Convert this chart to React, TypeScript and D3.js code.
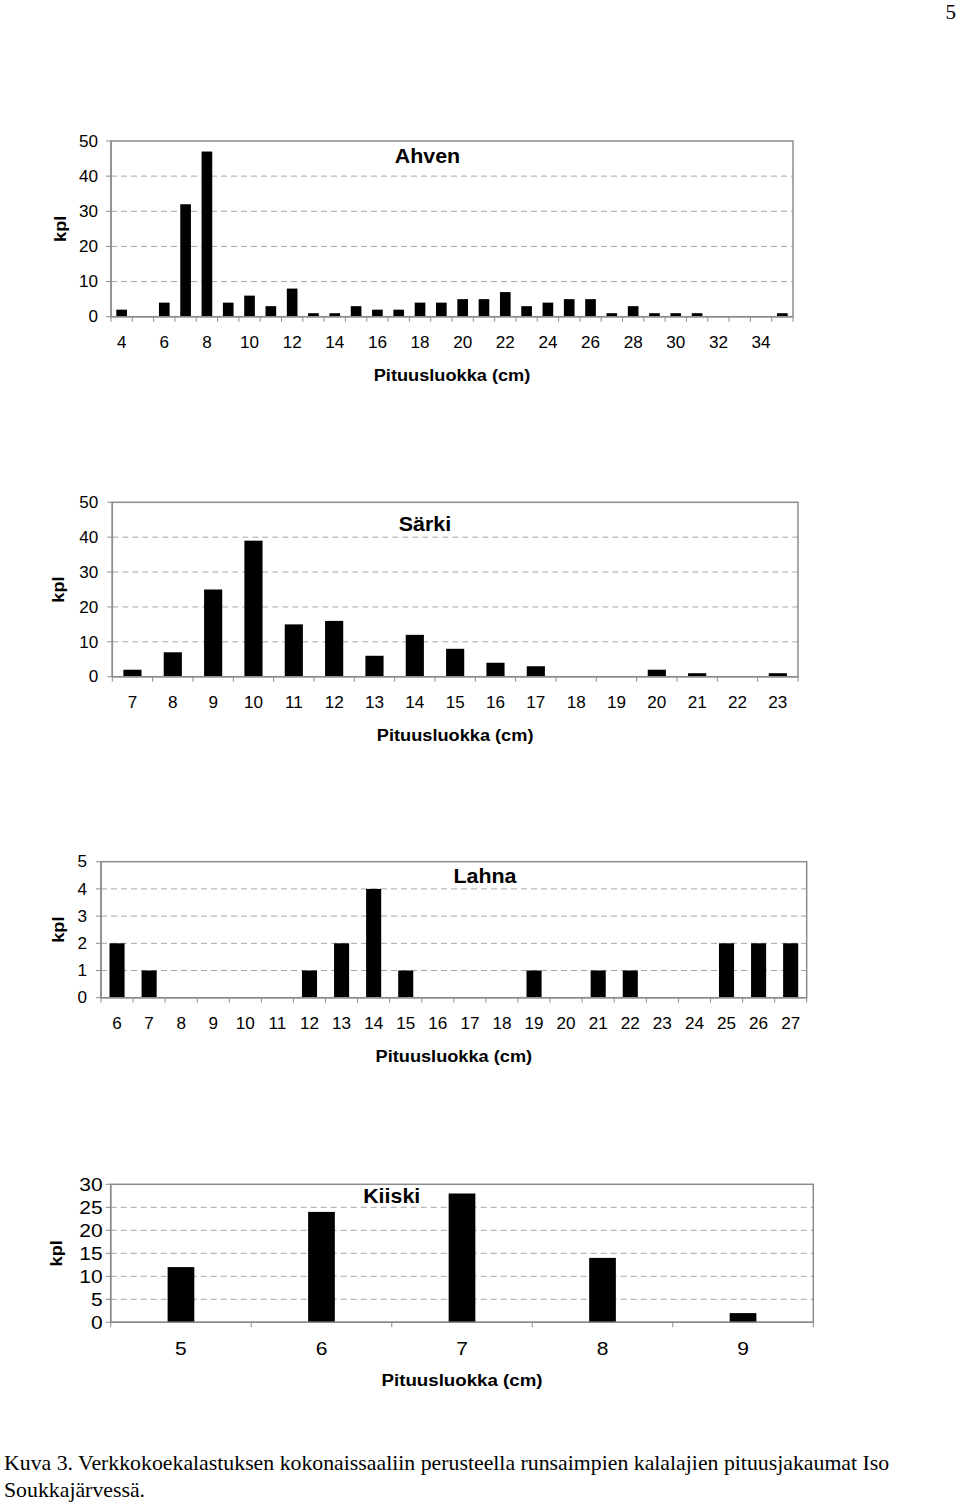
import React from "react";
import * as d3 from "d3";

// ---------- data ----------
const ahvenClasses = [4, 5, 6, 7, 8, 9, 10, 11, 12, 13, 14, 15, 16, 17, 18, 19, 20, 21, 22, 23, 24, 25, 26, 27, 28, 29, 30, 31, 32, 33, 34, 35];
const ahvenCounts = [2, 0, 4, 32, 47, 4, 6, 3, 8, 1, 1, 3, 2, 2, 4, 4, 5, 5, 7, 3, 4, 5, 5, 1, 3, 1, 1, 1, 0, 0, 0, 1];
const ahvenXLabels = [4, 6, 8, 10, 12, 14, 16, 18, 20, 22, 24, 26, 28, 30, 32, 34];
const ahvenYTicks = [0, 10, 20, 30, 40, 50];

const sarkiClasses = [7, 8, 9, 10, 11, 12, 13, 14, 15, 16, 17, 18, 19, 20, 21, 22, 23];
const sarkiCounts = [2, 7, 25, 39, 15, 16, 6, 12, 8, 4, 3, 0, 0, 2, 1, 0, 1];
const sarkiXLabels = sarkiClasses;
const sarkiYTicks = [0, 10, 20, 30, 40, 50];

const lahnaClasses = [6, 7, 8, 9, 10, 11, 12, 13, 14, 15, 16, 17, 18, 19, 20, 21, 22, 23, 24, 25, 26, 27];
const lahnaCounts = [2, 1, 0, 0, 0, 0, 1, 2, 4, 1, 0, 0, 0, 1, 0, 1, 1, 0, 0, 2, 2, 2];
const lahnaXLabels = lahnaClasses;
const lahnaYTicks = [0, 1, 2, 3, 4, 5];

const kiiskiClasses = [5, 6, 7, 8, 9];
const kiiskiCounts = [12, 24, 28, 14, 2];
const kiiskiXLabels = kiiskiClasses;
const kiiskiYTicks = [0, 5, 10, 15, 20, 25, 30];

const xAxisTitle = "Pituusluokka (cm)";
const yAxisTitle = "kpl";
const captionLine1 = "Kuva 3. Verkkokoekalastuksen kokonaissaaliin perusteella runsaimpien kalalajien pituusjakaumat Iso";
const captionLine2 = "Soukkajärvessä.";
const pageNumber = "5";

// ---------- styles ----------
const FONT = "'Liberation Sans', Arial, sans-serif";
const SERIF = "'Liberation Serif', 'Times New Roman', serif";
const SX = 1.07;
const GRID = "#a6a6a6";
const AXIS = "#8c8c8c";

type ChartProps = {
  title: string;
  classes: number[];
  counts: number[];
  xLabels: number[];
  yTicks: number[];
  x0: number; x1: number; y0: number; y1: number;
  barRatio: number;
  titleX: number; titleY: number;
  yLabelGap: number;
  kplX: number;
  tickSx?: number;
  tickSize?: number;
  axisSx?: number;
};

function SText(props: { x: number; y: number; anchor?: string; size: number; bold?: boolean; children: React.ReactNode; rotate?: boolean; sx?: number }) {
  const { x, y, anchor = "middle", size, bold, children, rotate, sx = SX } = props;
  const tr = rotate ? `translate(${x},${y}) rotate(-90) scale(${sx},1)` : `translate(${x},${y}) scale(${sx},1)`;
  return (
    <text transform={tr} textAnchor={anchor} fontSize={size} fontWeight={bold ? "bold" : "normal"} fontFamily={FONT} fill="#000">
      {children}
    </text>
  );
}

function Chart(p: ChartProps) {
  const ymax = p.yTicks[p.yTicks.length - 1];
  const tickSx = p.tickSx ?? SX;
  const tickSize = p.tickSize ?? 16;
  const axisSx = p.axisSx ?? SX;
  const x = d3.scaleBand<number>()
    .domain(p.classes)
    .range([p.x0, p.x1])
    .paddingInner(1 - p.barRatio)
    .paddingOuter((1 - p.barRatio) / 2);
  const y = d3.scaleLinear().domain([0, ymax]).range([p.y1, p.y0]);
  const step = x.step();
  const center = (c: number) => (x(c) as number) + x.bandwidth() / 2;
  const boundaries = d3.range(p.classes.length + 1).map((i) => p.x0 + i * step);
  const half = tickSize * 0.36;
  return (
    <g>
      {p.yTicks.filter((t) => t !== 0 && t !== ymax).map((t) => (
        <line key={"g" + t} x1={p.x0} x2={p.x1} y1={y(t)} y2={y(t)} stroke={GRID} strokeWidth={1} strokeDasharray="6,4" />
      ))}
      <rect x={p.x0} y={p.y0} width={p.x1 - p.x0} height={p.y1 - p.y0} fill="none" stroke={AXIS} strokeWidth={1.5} />
      {p.classes.map((c, i) => p.counts[i] > 0 ? (
        <rect key={"b" + c} x={x(c)} y={y(p.counts[i])} width={x.bandwidth()} height={p.y1 - y(p.counts[i])} fill="#000" />
      ) : null)}
      <line x1={p.x0} x2={p.x1} y1={p.y1} y2={p.y1} stroke={AXIS} strokeWidth={1.5} />
      {boundaries.map((bx, i) => (
        <line key={"xt" + i} x1={bx} x2={bx} y1={p.y1} y2={p.y1 + 5} stroke={AXIS} strokeWidth={1} />
      ))}
      <line x1={p.x0} x2={p.x0} y1={p.y0} y2={p.y1} stroke={AXIS} strokeWidth={1.5} />
      {p.yTicks.map((t) => (
        <line key={"yt" + t} x1={p.x0 - 5} x2={p.x0} y1={y(t)} y2={y(t)} stroke={AXIS} strokeWidth={1} />
      ))}
      {p.yTicks.map((t) => (
        <SText key={"yl" + t} x={p.x0 - p.yLabelGap} y={y(t) + half} anchor="end" size={tickSize} sx={tickSx}>{t}</SText>
      ))}
      {p.xLabels.map((c) => (
        <SText key={"xl" + c} x={center(c)} y={p.y1 + 26 + half} size={tickSize} sx={tickSx}>{c}</SText>
      ))}
      <SText x={(p.x0 + p.x1) / 2} y={p.y1 + 64} size={17} bold sx={axisSx}>{xAxisTitle}</SText>
      <SText x={p.kplX} y={(p.y0 + p.y1) / 2} size={17} bold rotate>{yAxisTitle}</SText>
      <SText x={p.titleX} y={p.titleY} size={20} bold>{p.title}</SText>
    </g>
  );
}

export default function App() {
  return (
    <svg width={960} height={1505} style={{ position: "absolute", left: 0, top: 0, background: "#fff" }}>
      <rect x={0} y={0} width={960} height={1505} fill="#fff" />
      <text x={956} y={19} textAnchor="end" fontSize={21} fontFamily={SERIF}>{pageNumber}</text>
      <Chart title="Ahven" classes={ahvenClasses} counts={ahvenCounts} xLabels={ahvenXLabels} yTicks={ahvenYTicks}
        x0={111} x1={793} y0={141} y1={316.7} barRatio={0.5} titleX={427.5} titleY={163} yLabelGap={13} kplX={66} />
      <Chart title="Särki" classes={sarkiClasses} counts={sarkiCounts} xLabels={sarkiXLabels} yTicks={sarkiYTicks}
        x0={112.3} x1={798} y0={502.3} y1={676.7} barRatio={0.45} titleX={425} titleY={531} yLabelGap={14} kplX={64} />
      <Chart title="Lahna" classes={lahnaClasses} counts={lahnaCounts} xLabels={lahnaXLabels} yTicks={lahnaYTicks}
        x0={101} x1={806.7} y0={861.7} y1={997.7} barRatio={0.47} titleX={485} titleY={883} yLabelGap={14} kplX={64} />
      <Chart title="Kiiski" classes={kiiskiClasses} counts={kiiskiCounts} xLabels={kiiskiXLabels} yTicks={kiiskiYTicks}
        x0={110.7} x1={813.3} y0={1184.3} y1={1322.3} barRatio={0.19} titleX={391.7} titleY={1202.7} yLabelGap={8} kplX={62}
        tickSx={1.2} tickSize={17.5} axisSx={1.1} />
      <text x={4} y={1470} fontSize={21.8} fontFamily={SERIF}>{captionLine1}</text>
      <text x={4} y={1497} fontSize={21.8} fontFamily={SERIF}>{captionLine2}</text>
    </svg>
  );
}
